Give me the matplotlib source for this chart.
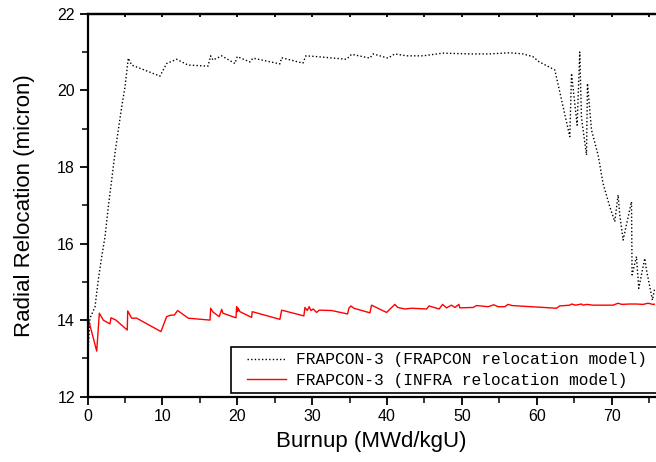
import matplotlib
matplotlib.use("Agg")
import matplotlib.pyplot as plt
from matplotlib.ticker import MultipleLocator
from matplotlib.patches import Rectangle
from matplotlib.legend_handler import HandlerLine2D

# FRAPCON-3 with FRAPCON relocation model (black dotted)
frapcon_x = [0.0, 0.33, 1.0, 1.44, 1.9, 2.34, 2.78, 3.23, 3.67, 4.11, 4.57, 5.01, 5.45, 5.9,
             9.68, 10.57, 11.91, 13.42, 16.09, 16.45, 16.76, 17.92, 19.69, 20.0, 21.7, 22.1,
             25.7, 25.93, 28.77, 29.17, 30.6, 34.6, 35.27, 37.72, 38.16, 40.12, 41.05, 42.62,
             44.8, 47.46, 51.07, 53.74, 56.41, 58.14, 59.48, 60.28, 62.42, 64.42, 64.65, 65.4,
             65.75, 65.98, 66.65, 66.78, 67.32, 68.2, 68.86, 69.76, 70.43, 70.87, 71.1, 71.54,
             72.66, 72.74, 73.32, 73.63, 74.43, 74.66, 75.46, 75.77]
frapcon_y = [12.95, 14.05, 14.34, 15.05, 15.66, 16.18, 16.96, 17.66, 18.36, 18.96, 19.57, 20.09, 20.84, 20.66,
             20.37, 20.70, 20.81, 20.66, 20.63, 20.90, 20.79, 20.90, 20.70, 20.88, 20.74, 20.84,
             20.69, 20.85, 20.71, 20.90, 20.88, 20.81, 20.94, 20.84, 20.95, 20.84, 20.95, 20.90,
             20.90, 20.97, 20.95, 20.95, 20.98, 20.95, 20.88, 20.75, 20.53, 18.79, 20.44, 19.09,
             21.0, 19.28, 18.31, 20.18, 18.96, 18.31, 17.57, 16.96, 16.57, 17.27, 16.74, 16.09,
             17.09, 15.18, 15.66, 14.83, 15.61, 15.31, 14.52, 14.84]

# FRAPCON-3 with INFRA relocation model (red solid)
infra_x = [0.0, 1.23, 1.58, 2.11, 3.0, 3.14, 3.8, 5.31, 5.37, 5.9, 6.57, 9.81, 10.57, 11.15, 11.59,
           12.04, 13.46, 16.36, 16.45, 16.76, 17.6, 17.92, 18.09, 19.83, 19.92, 20.05, 20.13, 20.36,
           21.92, 22.0, 25.7, 25.93, 28.9, 29.04, 29.35, 29.61, 29.84, 30.15, 30.6, 30.95, 32.6,
           34.74, 34.91, 35.18, 35.58, 37.72, 37.94, 39.95, 41.05, 41.45, 42.39, 43.28, 45.29,
           45.63, 46.97, 47.42, 47.96, 48.62, 49.07, 49.6, 49.73, 51.51, 51.96, 53.51, 54.27,
           54.85, 55.74, 56.18, 56.68, 62.64, 63.08, 64.42, 64.65, 65.22, 65.98, 66.22, 66.65,
           67.53, 69.32, 70.2, 70.87, 71.36, 72.43, 73.32, 74.2, 74.87, 75.54, 75.9]
infra_y = [14.11, 13.19, 14.18, 14.0, 13.9, 14.06, 14.0, 13.74, 14.24, 14.05, 14.05, 13.70, 14.09, 14.13, 14.13,
           14.25, 14.05, 14.0, 14.31, 14.21, 14.09, 14.28, 14.18, 14.06, 14.35, 14.22, 14.31, 14.22,
           14.07, 14.22, 14.02, 14.26, 14.11, 14.33, 14.25, 14.35, 14.25, 14.29, 14.2, 14.26, 14.25,
           14.16, 14.31, 14.37, 14.31, 14.19, 14.39, 14.2, 14.41, 14.33, 14.29, 14.31, 14.29,
           14.37, 14.29, 14.41, 14.32, 14.39, 14.33, 14.41, 14.32, 14.33, 14.38, 14.35, 14.4,
           14.35, 14.35, 14.41, 14.38, 14.31, 14.37, 14.39, 14.42, 14.39, 14.42, 14.39, 14.41,
           14.39, 14.39, 14.39, 14.44, 14.41, 14.42, 14.42, 14.41, 14.44, 14.41, 14.42]

labels = ["FRAPCON-3 (FRAPCON relocation model)", "FRAPCON-3 (INFRA relocation model)"]
x_label = "Burnup (MWd/kgU)"
y_label = "Radial Relocation (micron)"

plt.rcParams['font.family'] = ['Liberation Sans', 'DejaVu Sans']

fig = plt.figure(figsize=(6.56, 4.62), dpi=100)
ax = fig.add_axes([87.5 / 656, (462 - 396.7) / 462, 567.5 / 656, 383 / 462])

ax.plot(frapcon_x, frapcon_y, color='black', linestyle=(0, (1, 1.6)), linewidth=1.0, label=labels[0])
ax.plot(infra_x, infra_y, color='red', linestyle='-', linewidth=1.0, label=labels[1])

ax.set_xlim(0, 75.8)
ax.set_ylim(12, 22)
ax.xaxis.set_major_locator(MultipleLocator(10))
ax.xaxis.set_minor_locator(MultipleLocator(5))
ax.yaxis.set_major_locator(MultipleLocator(2))
ax.yaxis.set_minor_locator(MultipleLocator(1))

for side in ['left', 'bottom', 'top']:
    ax.spines[side].set_linewidth(1.6)
ax.spines['right'].set_visible(False)

ax.tick_params(axis='both', which='major', direction='out', length=6, width=1.3,
               labelsize=11.5, pad=3, top=False, right=False)
ax.tick_params(axis='both', which='minor', direction='out', length=4, width=1.1,
               top=False, right=False)

# small inward ticks on top spine
top = ax.secondary_xaxis('top')
top.xaxis.set_major_locator(MultipleLocator(5))
top.tick_params(direction='in', length=2, width=1.3, labeltop=False)
top.spines['top'].set_linewidth(1.6)

ax.set_xlabel(x_label, fontsize=16, labelpad=5)
ax.set_ylabel(y_label, fontsize=16, labelpad=16)

# legend frame extending beyond the right edge
frame = Rectangle((0.253, 0.0097), 0.9, 0.12, transform=ax.transAxes, facecolor='white',
                  edgecolor='black', linewidth=1.2, clip_on=False, zorder=4)
ax.add_patch(frame)

leg = ax.legend(loc='lower left', bbox_to_anchor=(0.253, 0.008), frameon=False,
                prop={'family': 'Liberation Mono', 'size': 11.7}, handlelength=3.06,
                handletextpad=0.6, labelspacing=0.35, borderpad=0.35, borderaxespad=0,
                handler_map={matplotlib.lines.Line2D: HandlerLine2D(xpad=0.63)})
leg.set_zorder(5)

fig.savefig('out.png', dpi=100)
